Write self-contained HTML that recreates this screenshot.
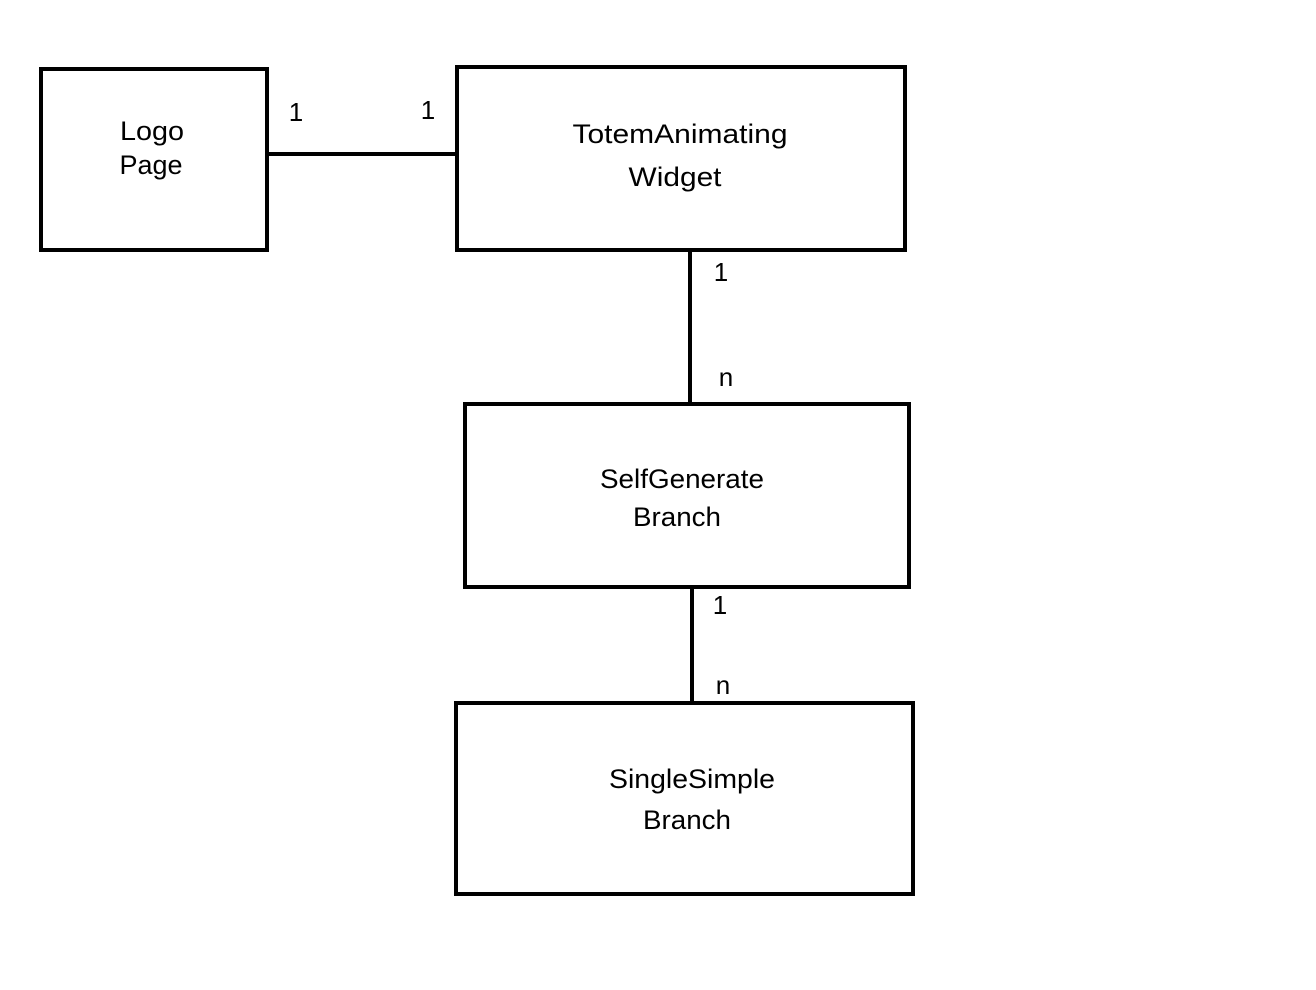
<!DOCTYPE html>
<html><head><meta charset="utf-8"><style>html,body{margin:0;padding:0;background:#fff}svg{display:block}</style></head>
<body>
<svg width="1316" height="990" viewBox="0 0 1316 990" xmlns="http://www.w3.org/2000/svg">
<g fill="none" stroke="#000" stroke-width="4">
<rect x="41" y="69" width="226" height="181"/>
<rect x="457" y="67" width="448" height="183"/>
<rect x="465" y="404" width="444" height="183"/>
<rect x="456" y="703" width="457" height="191"/>
<line x1="267" y1="154" x2="457" y2="154"/>
<line x1="690" y1="248" x2="690" y2="404"/>
<line x1="692" y1="587" x2="692" y2="703"/>
</g>
<g font-family="Liberation Sans, DejaVu Sans, sans-serif" font-size="27" fill="#000" text-anchor="middle" dominant-baseline="central">
<text x="152" y="131" textLength="64" lengthAdjust="spacingAndGlyphs">Logo</text>
<text x="151" y="165" textLength="63" lengthAdjust="spacingAndGlyphs">Page</text>
<text x="680" y="134" textLength="215" lengthAdjust="spacingAndGlyphs">TotemAnimating</text>
<text x="675" y="177" textLength="93" lengthAdjust="spacingAndGlyphs">Widget</text>
<text x="682" y="479" textLength="164" lengthAdjust="spacingAndGlyphs">SelfGenerate</text>
<text x="677" y="517" textLength="88" lengthAdjust="spacingAndGlyphs">Branch</text>
<text x="692" y="779" textLength="166" lengthAdjust="spacingAndGlyphs">SingleSimple</text>
<text x="687" y="820" textLength="88" lengthAdjust="spacingAndGlyphs">Branch</text>
</g>
<g font-family="Liberation Sans, DejaVu Sans, sans-serif" font-size="26" fill="#000" text-anchor="middle" dominant-baseline="central">
<text x="296" y="112">1</text>
<text x="428" y="110">1</text>
<text x="721" y="272">1</text>
<text x="726" y="377">n</text>
<text x="720" y="605">1</text>
<text x="723" y="685">n</text>
</g>
</svg>
</body></html>
